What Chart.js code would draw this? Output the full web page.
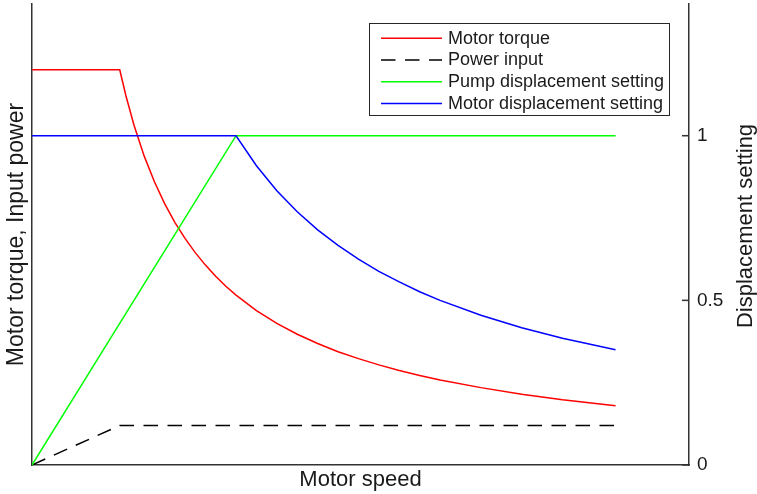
<!DOCTYPE html>
<html><head><meta charset="utf-8">
<script src="https://cdn.jsdelivr.net/npm/chart.js@4/dist/chart.umd.min.js"></script>
<style>html,body{margin:0;padding:0;background:#fff}#wrap{width:757px;height:494px}</style>
</head><body><div id="wrap"><canvas id="c" width="757" height="494"></canvas></div>
<script>
const seriesNames = ['Motor torque', 'Power input', 'Pump displacement setting', 'Motor displacement setting'];
const torqueSpeed  = [0, 0.43, 0.46, 0.50, 0.55, 0.60, 0.65, 0.70, 0.75, 0.80, 0.85, 0.90, 0.95, 1.00, 1.10, 1.20, 1.30, 1.40, 1.50, 1.60, 1.70, 1.80, 1.90, 2.00, 2.20, 2.40, 2.60, 2.86];
const torqueValues = [1.2, 1.2, 1.122, 1.032, 0.938, 0.860, 0.794, 0.737, 0.688, 0.645, 0.607, 0.573, 0.543, 0.516, 0.469, 0.430, 0.397, 0.369, 0.344, 0.323, 0.304, 0.287, 0.272, 0.258, 0.235, 0.215, 0.198, 0.180];
const powerSpeed  = [0, 0.43, 2.86];
const powerValues = [0, 0.12, 0.12];
const pumpSpeed  = [0, 1, 2.86];
const pumpValues = [0, 1, 1];
const motorDispSpeed  = [0, 1.0, 1.1, 1.2, 1.3, 1.4, 1.5, 1.6, 1.7, 1.8, 1.9, 2.0, 2.2, 2.4, 2.6, 2.86];
const motorDispValues = [1, 1.0, 0.909, 0.833, 0.769, 0.714, 0.667, 0.625, 0.588, 0.556, 0.526, 0.500, 0.455, 0.417, 0.385, 0.350];
const rightTicks = [0, 0.5, 1];
const xTitle = 'Motor speed';
const leftTitle = 'Motor torque, Input power';
const rightTitle = 'Displacement setting';

const pts = (xs, ys) => xs.map((x, i) => ({x: x, y: ys[i]}));
const FONT = "'Liberation Sans', Arial, Helvetica, sans-serif";
const AXIS = '#333333';
const TEXT = '#1a1a1a';

const legendPlugin = {
  id: 'boxLegend',
  afterDraw(chart) {
    const ctx = chart.ctx, ca = chart.chartArea;
    const bx = ca.right - 320, by = ca.top + 19, bw = 300, bh = 92;
    ctx.save();
    ctx.fillStyle = '#fff';
    ctx.fillRect(bx, by, bw, bh);
    ctx.strokeStyle = '#262626';
    ctx.lineWidth = 1;
    ctx.strokeRect(Math.round(bx) + 0.5, Math.round(by) + 0.5, bw, bh);
    chart.data.datasets.forEach((ds, i) => {
      const y = by + 15.3 + i * 21.7;
      ctx.beginPath();
      ctx.setLineDash(ds.borderDash || []);
      ctx.strokeStyle = ds.borderColor;
      ctx.lineWidth = 1.5;
      ctx.moveTo(bx + 12, y);
      ctx.lineTo(bx + 73, y);
      ctx.stroke();
      ctx.setLineDash([]);
      ctx.fillStyle = TEXT;
      ctx.font = '18px ' + FONT;
      ctx.textBaseline = 'middle';
      ctx.textAlign = 'left';
      ctx.fillText(ds.label, bx + 79, y + 0.5);
    });
    ctx.restore();
  }
};

const rightTitlePlugin = {
  id: 'rightTitle',
  afterDraw(chart) {
    const ctx = chart.ctx, ca = chart.chartArea;
    ctx.save();
    ctx.translate(chart.width - 11, (ca.top + ca.bottom) / 2 - 8.5);
    ctx.rotate(-Math.PI / 2);
    ctx.fillStyle = TEXT;
    ctx.font = '22px ' + FONT;
    ctx.textAlign = 'center';
    ctx.textBaseline = 'middle';
    ctx.fillText(rightTitle, 0, 0);
    ctx.restore();
  }
};

const tickMarkPlugin = {
  id: 'innerTicks',
  afterDraw(chart) {
    const s = chart.scales.y1, ctx = chart.ctx;
    ctx.save();
    ctx.strokeStyle = AXIS;
    ctx.lineWidth = 1.5;
    s.ticks.forEach(t => {
      const y = s.getPixelForValue(t.value);
      ctx.beginPath();
      ctx.moveTo(s.left - 7, y);
      ctx.lineTo(s.left, y);
      ctx.stroke();
    });
    ctx.restore();
  }
};

new Chart(document.getElementById('c'), {
  type: 'line',
  data: {
    datasets: [
      {label: seriesNames[0], data: pts(torqueSpeed, torqueValues), borderColor: '#ff0000', yAxisID: 'y', order: 3},
      {label: seriesNames[1], data: pts(powerSpeed, powerValues), borderColor: '#000000', borderDash: [14.5, 9.5], yAxisID: 'y', order: 2},
      {label: seriesNames[2], data: pts(pumpSpeed, pumpValues), borderColor: '#00ff00', yAxisID: 'y1', order: 1},
      {label: seriesNames[3], data: pts(motorDispSpeed, motorDispValues), borderColor: '#0000ff', yAxisID: 'y1', order: 0}
    ]
  },
  options: {
    responsive: false,
    devicePixelRatio: 1,
    animation: false,
    layout: {padding: {top: 4, left: 0, right: 0, bottom: 0}},
    elements: {
      point: {radius: 0, hoverRadius: 0},
      line: {borderWidth: 1.5, tension: 0, fill: false, borderCapStyle: 'butt'}
    },
    plugins: {legend: {display: false}, tooltip: {enabled: false}},
    scales: {
      x: {
        type: 'linear', position: 'bottom', min: 0, max: 3.22,
        ticks: {display: false},
        grid: {drawOnChartArea: false, drawTicks: false},
        border: {display: true, color: AXIS, width: 1.5},
        title: {display: true, text: xTitle, color: TEXT, font: {family: FONT, size: 22, lineHeight: 1}, padding: {top: 4, bottom: 3}},
        afterFit: s => { s.height = 29; s.paddingLeft = 0; s.paddingRight = 0; }
      },
      y: {
        type: 'linear', position: 'left', min: 0, max: 1.4,
        ticks: {display: false},
        grid: {drawOnChartArea: false, drawTicks: false},
        border: {display: true, color: AXIS, width: 1.5},
        title: {display: true, text: leftTitle, color: TEXT, font: {family: FONT, size: 23, lineHeight: 1}, padding: {top: 5.5, bottom: 3.5}},
        afterFit: s => { s.width = 32; s.paddingTop = 0; s.paddingBottom = 0; }
      },
      y1: {
        type: 'linear', position: 'right', min: 0, max: 1.4,
        afterBuildTicks: s => { s.ticks = rightTicks.map(v => ({value: v})); },
        ticks: {display: true, color: TEXT, padding: 8, font: {family: FONT, size: 19}, callback: v => String(v)},
        grid: {drawOnChartArea: false, drawTicks: false},
        border: {display: true, color: AXIS, width: 1.5},
        title: {display: false},
        afterFit: s => { s.width = 68; s.paddingTop = 0; s.paddingBottom = 0; }
      }
    }
  },
  plugins: [legendPlugin, tickMarkPlugin, rightTitlePlugin]
});
</script>
</body></html>
